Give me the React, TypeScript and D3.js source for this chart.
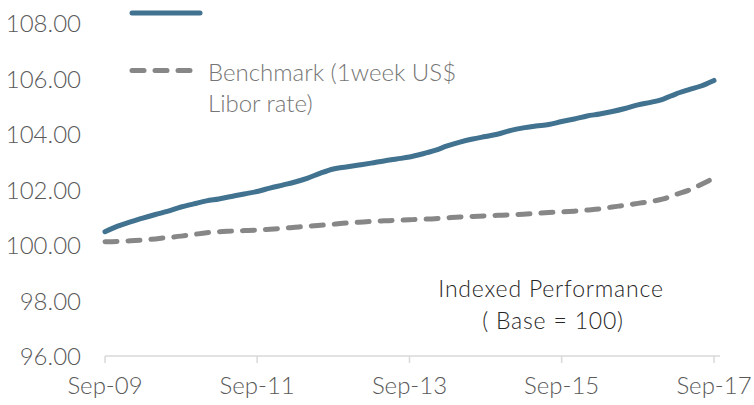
import React from "react";
import * as d3 from "d3";

// Bi-monthly observations, Sep-2009 .. Sep-2017
const startDate = new Date(2009, 8, 1);
const stepMonths = 2;
const portfolio = [
  100.48, 100.68, 100.83, 100.97, 101.10, 101.22, 101.37, 101.48, 101.59, 101.66,
  101.75, 101.84, 101.93, 102.05, 102.16, 102.27, 102.41, 102.59, 102.74, 102.81,
  102.88, 102.95, 103.03, 103.10, 103.17, 103.28, 103.41, 103.57, 103.71, 103.82,
  103.91, 104.00, 104.13, 104.22, 104.29, 104.34, 104.45, 104.54, 104.65, 104.72,
  104.81, 104.92, 105.05, 105.14, 105.26, 105.44, 105.59, 105.73, 105.93,
];
const benchmark = [
  100.12, 100.13, 100.15, 100.18, 100.22, 100.27, 100.32, 100.38, 100.44, 100.48,
  100.50, 100.52, 100.54, 100.57, 100.60, 100.64, 100.68, 100.71, 100.75, 100.79,
  100.82, 100.85, 100.87, 100.89, 100.91, 100.93, 100.95, 100.98, 101.01, 101.03,
  101.05, 101.07, 101.09, 101.11, 101.14, 101.17, 101.19, 101.22, 101.26, 101.30,
  101.37, 101.43, 101.50, 101.57, 101.66, 101.82, 101.97, 102.18, 102.41,
];
const yTicks = [96, 98, 100, 102, 104, 106, 108];
const xTickLabels = ["Sep-09", "Sep-11", "Sep-13", "Sep-15", "Sep-17"];
const xTickDates = [
  new Date(2009, 8, 1),
  new Date(2011, 8, 1),
  new Date(2013, 8, 1),
  new Date(2015, 8, 1),
  new Date(2017, 8, 1),
];
const legendLabel = ["Benchmark (1week US$", "Libor rate)"];
const noteLines = ["Indexed Performance", "( Base = 100)"];

const FONT = "Lato, 'Open Sans', sans-serif";

export default function App() {
  const x = d3
    .scaleTime()
    .domain([startDate, new Date(2017, 8, 1)])
    .range([105, 714]);
  const y = d3.scaleLinear().domain([96, 108]).range([356, 23]);

  const dateAt = (i: number) => d3.timeMonth.offset(startDate, i * stepMonths);
  const line = d3
    .line<number>()
    .x((_, i) => x(dateAt(i)))
    .y((d) => y(d))
    .curve(d3.curveMonotoneX);

  return (
    <svg
      width={754}
      height={405}
      style={{ position: "absolute", left: 0, top: 0, background: "#fff" }}
    >
      {/* y tick labels */}
      {yTicks.map((t) => (
        <text
          key={t}
          x={81}
          y={y(t) + 9}
          textAnchor="end"
          fontFamily={FONT}
          fontWeight={300}
          fontSize={24}
          fill="#595959"
        >
          {t.toFixed(2)}
        </text>
      ))}
      {/* x axis */}
      <line x1={105} x2={720} y1={356} y2={356} stroke="#d9d9d9" strokeWidth={1.5} />
      {xTickDates.map((d, i) => (
        <g key={i}>
          <line x1={x(d)} x2={x(d)} y1={356} y2={363} stroke="#d9d9d9" strokeWidth={1.5} />
          <text
            x={x(d)}
            y={394}
            textAnchor="middle"
            fontFamily={FONT}
            fontWeight={300}
            fontSize={24}
            fill="#595959"
          >
            {xTickLabels[i]}
          </text>
        </g>
      ))}
      {/* series */}
      <path
        d={line(benchmark) || ""}
        fill="none"
        stroke="#878787"
        strokeWidth={5}
        strokeDasharray="12 11"
        strokeLinecap="round"
      />
      <path
        d={line(portfolio) || ""}
        fill="none"
        stroke="#41728f"
        strokeWidth={5}
        strokeLinecap="round"
        strokeLinejoin="round"
      />
      {/* legend */}
      <line x1={132} x2={200} y1={13} y2={13} stroke="#41728f" strokeWidth={5} strokeLinecap="round" />
      <line
        x1={132}
        x2={194}
        y1={70.5}
        y2={70.5}
        stroke="#878787"
        strokeWidth={5}
        strokeDasharray="12 11"
        strokeLinecap="round"
      />
      {legendLabel.map((l, i) => (
        <text
          key={i}
          x={208}
          y={81 + i * 31}
          fontFamily={FONT}
          fontWeight={300}
          fontSize={24}
          fill="#767676"
        >
          {l}
        </text>
      ))}
      {/* note */}
      {noteLines.map((l, i) => (
        <text
          key={i}
          x={i === 0 ? 551 : 553}
          y={297 + i * 32}
          textAnchor="middle"
          fontFamily={FONT}
          fontWeight={300}
          fontSize={23}
          letterSpacing={0.8}
          fill="#262626"
        >
          {l}
        </text>
      ))}
    </svg>
  );
}
